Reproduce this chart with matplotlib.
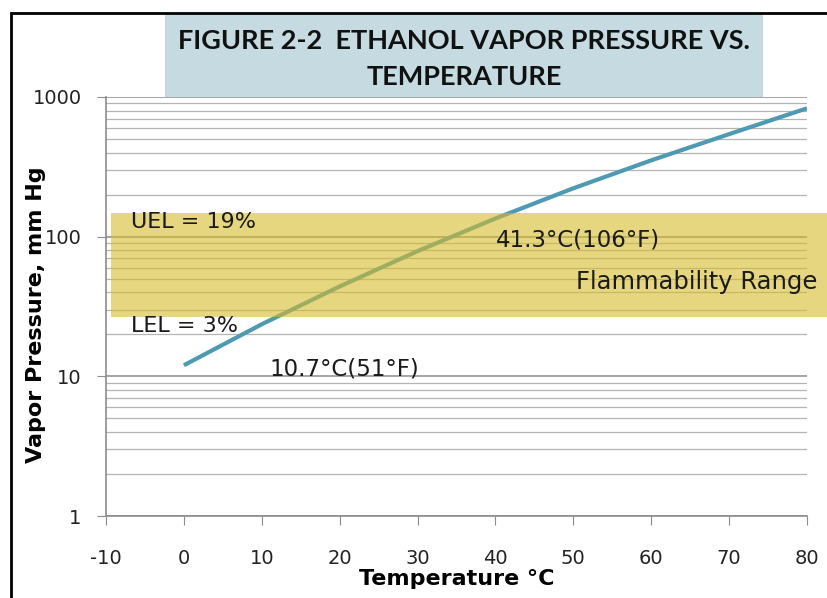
import numpy as np
import matplotlib
matplotlib.use("Agg")
import matplotlib.pyplot as plt
from matplotlib.patches import Rectangle

# ethanol vapor pressure
temp_c = [0, 10, 20, 30, 40, 50, 60, 70, 80]
vp_mmhg = [12.0, 23.6, 44.0, 78.8, 135, 222, 352, 542, 830]

# flammability band (mm Hg) and its x start
band_low = 26.5
band_high = 147
band_x0 = -9.4

x_ticks = [-10, 0, 10, 20, 30, 40, 50, 60, 70, 80]
y_ticks = [1, 10, 100, 1000]

title = "FIGURE 2-2  ETHANOL VAPOR PRESSURE VS.\nTEMPERATURE"

plt.rcParams["font.family"] = ["DejaVu Sans"]

fig = plt.figure(figsize=(8.27, 5.98), dpi=100)
ax = fig.add_axes([106/827, 82/598, 701/827, 419/598])

ax.plot(temp_c, vp_mmhg, color="#4f9ab3", lw=3.0, zorder=3, solid_capstyle="butt")

ax.set_yscale("log")
ax.set_xlim(-10, 80)
ax.set_ylim(1, 1000)
ax.set_xticks(x_ticks)
ax.set_xticklabels([str(t) for t in x_ticks])
ax.set_yticks(y_ticks)
ax.set_yticklabels([str(t) for t in y_ticks])

ax.grid(True, which="major", axis="y", color="#8c8c8c", lw=1.1)
ax.grid(True, which="minor", axis="y", color="#b4b4b4", lw=0.9)
ax.tick_params(axis="y", which="minor", length=0)
ax.tick_params(axis="both", which="major", direction="out", length=6.5,
               color="#8c8c8c", labelsize=14, labelcolor="#222222")
ax.tick_params(axis="x", pad=17)
ax.tick_params(axis="y", pad=11)
for s in ["top", "right"]:
    ax.spines[s].set_visible(False)
for s in ["left", "bottom"]:
    ax.spines[s].set_color("#8c8c8c")
    ax.spines[s].set_linewidth(1.2)

# yellow band over the line
band = Rectangle((band_x0, band_low), 100, band_high - band_low,
                 facecolor="#d4bb2a", alpha=0.6, edgecolor="none",
                 zorder=4, clip_on=False)
ax.add_patch(band)

txt_kw = dict(color="#1a1a1a", va="center", ha="left", zorder=5)
ax.text(-6.8, 127, "UEL = 19%", fontsize=16, **txt_kw)
ax.text(-6.8, 23, "LEL = 3%", fontsize=16, **txt_kw)
ax.text(11.0, 11.3, "10.7°C(51°F)", fontsize=16.5, **txt_kw)
ax.text(40.0, 95, "41.3°C(106°F)", fontsize=16.5, **txt_kw)
ax.text(50.3, 47, "Flammability Range", fontsize=17.5, clip_on=False, **txt_kw)

ax.set_xlabel("Temperature °C", fontsize=16, fontweight="bold")
ax.set_ylabel("Vapor Pressure, mm Hg", fontsize=16, fontweight="bold")
ax.xaxis.set_label_coords(0.501, -0.127)
ax.yaxis.set_label_coords(-0.085, 0.48)

# title box
fig.patches.append(Rectangle((165/827, 501/598), 598/827, 83/598,
                             transform=fig.transFigure, facecolor="#c6dbe1",
                             edgecolor="none", zorder=6))
fig.text(464/827, 539/598, title, ha="center", va="center", fontsize=19.5,
         fontweight="bold", color="#111111", linespacing=1.6, zorder=7,
         family="Lato")

# outer frame
fig.patches.append(Rectangle((11/827, -0.05), 1.2, 585/598 + 0.05,
                             transform=fig.transFigure, fill=False,
                             edgecolor="black", lw=2, zorder=8))

fig.savefig("out.png", dpi=100)
